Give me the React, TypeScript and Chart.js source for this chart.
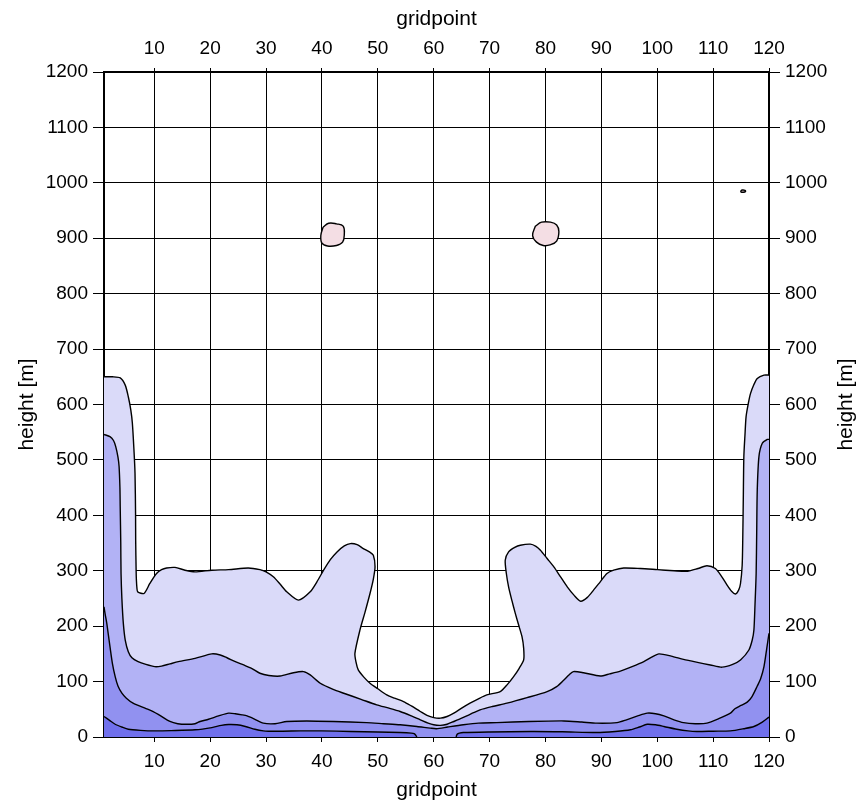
import React, { useEffect, useRef } from 'react';
import { Chart, registerables } from 'chart.js';

Chart.register(...registerables);

type Pt = [number, number];

const FONT = '"Liberation Sans", Arial, Helvetica, sans-serif';

// Tick positions
const xTicks = [10, 20, 30, 40, 50, 60, 70, 80, 90, 100, 110, 120];
const yTicks = [0, 100, 200, 300, 400, 500, 600, 700, 800, 900, 1000, 1100, 1200];

// Contour lines as [gridpoint, height] pairs, from the outermost level inwards
const contour1: Pt[] = [
  [1, 650], [2.5, 650], [3.9, 648], [4.8, 635], [5.35, 614], [5.8, 590], [6.07, 567], [6.35, 520],
  [6.55, 476], [6.65, 400], [6.67, 355], [6.75, 300], [6.8, 283], [6.9, 268], [7.03, 262], [8.16, 259],
  [9.2, 277], [10.4, 295], [11.3, 302], [12.2, 305], [13.7, 306], [15.5, 301], [17.3, 298], [20.3, 301],
  [23.3, 302], [26.8, 305], [28.9, 302], [30, 298], [31.3, 289], [32.5, 276], [33.7, 262], [35.8, 247],
  [37.9, 262], [39.1, 280], [40.3, 301], [41.5, 320], [42.7, 334], [44, 345], [45.1, 349], [46.3, 347],
  [47.4, 340], [48.5, 334], [49.2, 328], [49.5, 307], [49.2, 285], [48.6, 259], [47.7, 225], [46.8, 193],
  [45.9, 151], [46.1, 135], [46.5, 121], [47.5, 108], [48.6, 97], [50, 87], [51.6, 76], [53, 70],
  [54.6, 64], [56, 56], [57.6, 46], [58.8, 39], [60, 35], [61.2, 34], [62.4, 37], [63.6, 43],
  [65, 52], [66.5, 61], [68, 69], [69.5, 76], [71.9, 82], [73.2, 95], [74.3, 109], [75.3, 124],
  [76.1, 139], [76.1, 160], [75.8, 181], [75.2, 202], [74.6, 223], [74, 246], [73.4, 271], [73, 295],
  [72.8, 319], [73.4, 334], [74.5, 342], [75.5, 346], [77.3, 348], [78.3, 344], [79.1, 337], [80.3, 322],
  [81.5, 307], [82.7, 289], [83.9, 271], [85.1, 256], [86.3, 245], [87.5, 252], [88.6, 265], [89.8, 280],
  [91, 295], [92.2, 301], [94, 305], [97, 304], [100, 302], [103, 300], [105.4, 299], [107.3, 304],
  [108.9, 309], [110.4, 304], [111.5, 290], [112.5, 274], [113.3, 263], [114, 258], [114.6, 266],
  [114.9, 277], [115.2, 310], [115.3, 355], [115.4, 430], [115.5, 506], [115.7, 545], [115.9, 578],
  [116.3, 602], [116.7, 620], [117.3, 636], [117.9, 647], [119.1, 653], [120, 653],
];

const contour2: Pt[] = [
  [1, 546], [2.07, 542], [2.7, 535], [3.1, 524], [3.5, 505], [3.7, 488], [3.85, 450], [3.9, 416],
  [4.0, 350], [4.05, 295], [4.2, 250], [4.46, 205], [4.8, 175], [5.35, 154], [6, 143], [7.1, 136],
  [8.5, 131], [10.1, 127], [11.3, 128], [12.8, 132], [14.3, 136], [17.3, 142], [20.3, 150], [21.8, 148],
  [23, 143], [24.5, 136], [26, 130], [27.4, 124], [28.9, 115], [30.5, 111], [32.5, 110], [34.9, 116],
  [36.7, 118], [37.9, 112], [39.7, 97], [42, 86], [43.9, 79], [47, 68], [49.8, 58], [52, 52],
  [54, 46], [56, 38], [57.6, 31], [59, 25], [60, 22], [61.2, 21], [62.4, 23], [63.6, 28],
  [65, 34], [66.5, 41], [68.3, 49], [70.5, 55], [73.1, 61], [76.7, 71], [80.3, 82], [82, 91],
  [83.3, 103], [84.2, 112], [85, 118], [86.8, 116], [89.8, 110], [91.5, 114], [93.4, 119], [95.5, 127],
  [97.6, 136], [99, 144], [100.3, 150], [102.5, 146], [104.7, 140], [107, 135], [109.5, 130], [111.6, 126],
  [113.5, 131], [114.9, 139], [116.4, 157], [117, 175], [117.3, 193], [117.5, 240], [117.7, 295],
  [117.8, 370], [117.9, 446], [118.2, 506], [118.8, 530], [119.7, 537], [120, 537],
];

const contour3: Pt[] = [
  [1, 235], [1.2, 222], [1.5, 205], [2.07, 163], [2.5, 133], [3, 109], [3.5, 92], [4.2, 79],
  [5, 70], [6.2, 61], [8.34, 52], [9.8, 46], [11, 39], [12.8, 28], [14.2, 24], [15.8, 23],
  [17.3, 24], [18.2, 28], [19.7, 32], [21.5, 38], [23.3, 43], [24.5, 42], [25.7, 40], [26.6, 38],
  [28, 32], [29.5, 25], [31.6, 24], [33.7, 28], [37.3, 29], [42.1, 28], [48, 26], [51, 24],
  [54, 22], [57, 19], [59.4, 16], [60.5, 15], [62.5, 18], [65.3, 22], [68, 25], [71.3, 26],
  [77, 28], [83.3, 29], [86.5, 27], [89.2, 25], [92.8, 26], [94.5, 31], [96.5, 38], [98.2, 43],
  [99.7, 42], [101.2, 38], [103, 31], [104.7, 26], [106.8, 24], [108.9, 25], [111, 33], [113.1, 43],
  [113.9, 51], [115, 57], [116.1, 63], [116.9, 72], [117.9, 92], [118.5, 105], [119.1, 127],
  [119.6, 160], [120, 187],
];

const contour4West: Pt[] = [
  [1, 37], [2, 30], [3, 23], [4.2, 18], [5.35, 14], [7.5, 12], [10.1, 11], [13, 11.5],
  [17.3, 13], [20.3, 17], [22, 21], [23.3, 22.5], [24.8, 22], [26.3, 19], [28, 14], [29.5, 11],
  [30.4, 10.5], [33, 10.5], [36.1, 11], [40, 11], [45.1, 10], [50, 9], [54, 8], [56, 7],
  [56.5, 6], [56.8, 3], [57, 0],
];

const contour4East: Pt[] = [
  [64, 0], [64.2, 5], [64.6, 7], [65.3, 8], [70, 9], [77.4, 10], [83, 9.5], [89.2, 8],
  [92.5, 10], [95.2, 13], [96.8, 18], [98.2, 23], [99.7, 22], [101.2, 19], [103.5, 14], [105.5, 11],
  [107.1, 10], [110, 10.5], [113.1, 11], [115.5, 15], [117.3, 19], [118.8, 27], [120, 36],
];

// Small closed cells aloft
const cellWest: Pt[] = [
  [40.2, 920], [41.2, 927], [42.6, 926], [43.8, 922], [44.0, 907], [43.7, 893], [42.6, 887],
  [41.0, 886], [40.0, 891], [39.8, 905], [40.2, 920],
];
const cellEast: Pt[] = [
  [78.2, 922], [79.3, 929], [80.9, 929], [82.0, 924], [82.4, 912], [82.0, 895], [80.8, 888],
  [79.6, 887], [78.4, 893], [77.7, 905], [78.2, 922],
];
const cellTiny: Pt[] = [
  [114.9, 985], [115.2, 987], [115.7, 986.5], [115.8, 984.5], [115.4, 983], [115.0, 983.5], [114.9, 985],
];

const LEVEL1 = 'rgb(218,218,249)';
const LEVEL2 = 'rgb(178,178,245)';
const LEVEL3 = 'rgb(145,145,240)';
const LEVEL4 = 'rgb(112,112,236)';
const CELL = 'rgb(244,222,228)';

const toXY = (pts: Pt[]) => pts.map(([x, y]) => ({ x, y }));

export default function App() {
  const ref = useRef<HTMLCanvasElement>(null);

  useEffect(() => {
    const canvas = ref.current;
    if (!canvas) return;

    const tickFont = { family: FONT, size: 19 };
    const titleFont = { family: FONT, size: 21 };
    const setTicks = (vals: number[]) => (scale: any) => {
      scale.ticks = vals.map((v) => ({ value: v }));
    };
    const plain = (v: number | string) => String(v);

    const line = (pts: Pt[], color: string, fill: any, tension = 0.25) => ({
      data: toXY(pts),
      borderColor: '#000',
      borderWidth: 1.4,
      backgroundColor: color,
      fill,
      pointRadius: 0,
      tension,
      xAxisID: 'x',
      yAxisID: 'y',
    });

    const rightTitle = {
      id: 'rightTitle',
      afterDraw(chart: any) {
        const { ctx, chartArea } = chart;
        ctx.save();
        ctx.font = `21px ${FONT}`;
        ctx.fillStyle = '#000';
        ctx.textAlign = 'center';
        ctx.textBaseline = 'middle';
        ctx.translate(chart.width - 21, (chartArea.top + chartArea.bottom) / 2);
        ctx.rotate(-Math.PI / 2);
        ctx.fillText('height [m]', 0, 0);
        ctx.restore();
      },
    };

    const axisGrid = (tickLength: number, onArea: boolean) => ({
      color: '#000',
      lineWidth: 1,
      drawOnChartArea: onArea,
      drawTicks: true,
      tickLength,
    });
    const border = { display: true, color: '#000', width: 2 };
    const xTickOpts = { color: '#000', font: tickFont, padding: 8, maxRotation: 0, autoSkip: false, callback: plain };
    const yTickOpts = { color: '#000', font: tickFont, padding: 5, autoSkip: false, callback: plain };

    const chart = new Chart(canvas, {
      type: 'line',
      data: {
        datasets: [
          line(cellWest, CELL, 'shape', 0.4),
          line(cellEast, CELL, 'shape', 0.4),
          line(cellTiny, CELL, 'shape', 0.4),
          line(contour4West, LEVEL4, 'start'),
          line(contour4East, LEVEL4, 'start'),
          line(contour3, LEVEL3, 'start'),
          line(contour2, LEVEL2, 'start'),
          line(contour1, LEVEL1, 'start'),
        ] as any,
      },
      options: {
        responsive: false,
        animation: false,
        events: [],
        layout: { padding: 0 },
        plugins: {
          legend: { display: false },
          tooltip: { enabled: false },
          filler: { propagate: false, drawTime: 'beforeDatasetsDraw' } as any,
        },
        scales: {
          x: {
            type: 'linear',
            position: 'bottom',
            min: 1,
            max: 120,
            z: 1,
            afterBuildTicks: setTicks(xTicks),
            afterFit: (s: any) => { s.height = 70; },
            grid: axisGrid(5, true),
            border,
            ticks: xTickOpts,
            title: { display: true, text: 'gridpoint', color: '#000', font: titleFont, padding: { top: 0, bottom: 4 } },
          },
          x2: {
            type: 'linear',
            position: 'top',
            min: 1,
            max: 120,
            z: 1,
            afterBuildTicks: setTicks(xTicks),
            afterFit: (s: any) => { s.height = 72; },
            grid: axisGrid(4, false),
            border,
            ticks: xTickOpts,
            title: { display: true, text: 'gridpoint', color: '#000', font: titleFont, padding: { top: 7, bottom: 0 } },
          },
          y: {
            type: 'linear',
            position: 'left',
            min: 0,
            max: 1200,
            z: 1,
            afterBuildTicks: setTicks(yTicks),
            afterFit: (s: any) => { s.width = 104; },
            grid: axisGrid(11, true),
            border,
            ticks: yTickOpts,
            title: { display: true, text: 'height [m]', color: '#000', font: titleFont, padding: { top: 15, bottom: 0 } },
          },
          y2: {
            type: 'linear',
            position: 'right',
            min: 0,
            max: 1200,
            z: 1,
            afterBuildTicks: setTicks(yTicks),
            afterFit: (s: any) => { s.width = 98; },
            grid: axisGrid(11, false),
            border,
            ticks: yTickOpts,
          },
        },
      } as any,
      plugins: [rightTitle],
    });

    return () => chart.destroy();
  }, []);

  return (
    <div style={{ position: 'absolute', left: 0, top: 0, width: 867, height: 807, background: '#fff' }}>
      <canvas ref={ref} width={867} height={807} style={{ display: 'block' }} />
    </div>
  );
}
